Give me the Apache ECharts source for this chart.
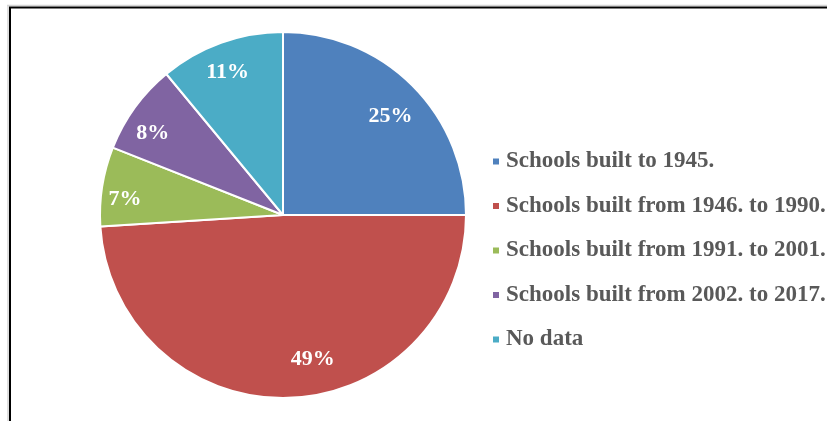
<!DOCTYPE html>
<html>
<head>
<meta charset="utf-8">
<script src="https://cdn.jsdelivr.net/npm/echarts@6/dist/echarts.min.js"></script>
<style>
  html, body { margin: 0; padding: 0; background: #fff; }
  #chart { width: 827px; height: 421px; }
</style>
</head>
<body>
<div id="chart"></div>
<script>
// Share of schools by construction period
const categories = [
  'Schools built to 1945.',
  'Schools built from 1946. to 1990.',
  'Schools built from 1991. to 2001.',
  'Schools built from 2002. to 2017.',
  'No data'
];
const shares = [25, 49, 7, 8, 11];
const colors = ['#4F81BD', '#C0504D', '#9BBB59', '#8064A2', '#4BACC6'];

// Small nudges so each percentage sits in the open part of its slice
const labelNudges = [[-2, 11], [25, -11], [-5, 9], [-5, 9], [-3, 3]];

const serif = '"Liberation Serif", "Times New Roman", serif';
const center = [283, 215];
const pieRadius = 183;

const chart = echarts.init(document.getElementById('chart'), null, { renderer: 'canvas' });

const sliceData = categories.map((name, i) => ({ name, value: shares[i] }));

// Labels sit on a transparent companion ring so they land near the outer part of each slice
const labelData = categories.map((name, i) => ({
  name,
  value: shares[i],
  label: { offset: labelNudges[i] }
}));

chart.setOption({
  animation: false,
  backgroundColor: '#ffffff',
  color: colors,
  legend: {
    orient: 'vertical',
    left: 491,
    top: 150,
    padding: 0,
    icon: 'rect',
    itemWidth: 8,
    itemHeight: 8,
    itemGap: 21.5,
    data: categories,
    textStyle: {
      fontFamily: serif,
      fontWeight: 'bold',
      fontSize: 23,
      lineHeight: 23,
      color: '#595959',
      padding: [0, 0, 0, 1]
    },
    selectedMode: false
  },
  graphic: [
    { type: 'line', shape: { x1: 7, y1: 5.5, x2: 827, y2: 5.5 }, style: { stroke: '#d4d4d4', lineWidth: 1.5 }, silent: true },
    { type: 'line', shape: { x1: 8, y1: 5, x2: 8, y2: 421 }, style: { stroke: '#d4d4d4', lineWidth: 1.5 }, silent: true },
    { type: 'line', shape: { x1: 9, y1: 7.5, x2: 827, y2: 7.5 }, style: { stroke: '#000', lineWidth: 2 }, silent: true },
    { type: 'line', shape: { x1: 10, y1: 7, x2: 10, y2: 421 }, style: { stroke: '#000', lineWidth: 2 }, silent: true }
  ],
  series: [
    {
      type: 'pie',
      center: center,
      radius: [0, pieRadius],
      startAngle: 90,
      clockwise: true,
      silent: true,
      data: sliceData,
      itemStyle: { borderColor: '#ffffff', borderWidth: 2 },
      label: { show: false },
      labelLine: { show: false }
    },
    {
      type: 'pie',
      center: center,
      radius: [0, pieRadius * 1.66],
      startAngle: 90,
      clockwise: true,
      silent: true,
      legendHoverLink: false,
      data: labelData,
      itemStyle: { color: 'transparent', borderWidth: 0 },
      label: {
        show: true,
        position: 'inside',
        formatter: '{c}%',
        color: '#ffffff',
        fontFamily: serif,
        fontWeight: 'bold',
        fontSize: 22
      },
      labelLine: { show: false },
      z: 3
    }
  ]
});
</script>
</body>
</html>
